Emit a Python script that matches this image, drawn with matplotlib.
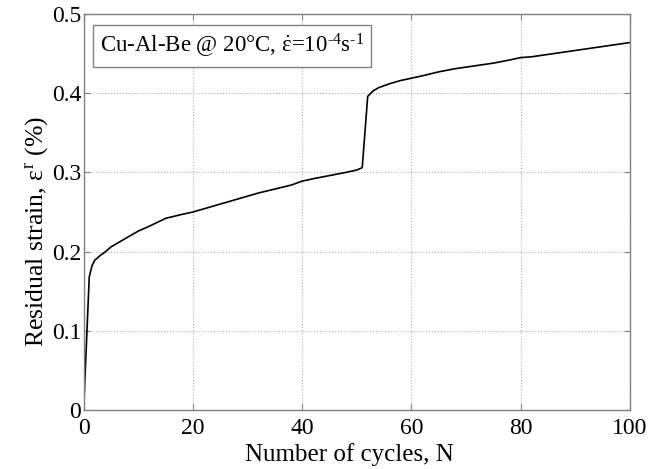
import numpy as np
import matplotlib
matplotlib.use("Agg")
import matplotlib.pyplot as plt

plt.rcParams["font.family"] = ["Liberation Serif", "DejaVu Serif"]
plt.rcParams["mathtext.fontset"] = "custom"
plt.rcParams["mathtext.rm"] = "Liberation Serif"
plt.rcParams["mathtext.it"] = "Liberation Serif"
plt.rcParams["mathtext.bf"] = "Liberation Serif:bold"

# residual strain vs cycle number
cycles = [0, 1, 1.5, 2, 3, 4, 5, 6, 8, 10, 12, 15, 18, 20, 22, 25, 28,
          30, 32, 35, 38, 40, 42, 45, 48, 50, 51, 52, 53, 54, 56, 58, 60,
          62, 65, 68, 70, 72, 75, 78, 80, 82, 85, 88, 90, 92, 95, 98, 100]
strain = [0.005, 0.168, 0.182, 0.189, 0.195, 0.200, 0.206, 0.210, 0.218,
          0.226, 0.232, 0.242, 0.247, 0.250, 0.254, 0.260, 0.266, 0.270,
          0.274, 0.279, 0.284, 0.289, 0.292, 0.296, 0.300, 0.303, 0.306,
          0.396, 0.403, 0.407, 0.412, 0.416, 0.419, 0.422, 0.427, 0.431,
          0.433, 0.435, 0.438, 0.442, 0.445, 0.446, 0.449, 0.452, 0.454,
          0.456, 0.459, 0.462, 0.464]

x_ticks = [0, 20, 40, 60, 80, 100]
y_ticks = [0, 0.1, 0.2, 0.3, 0.4, 0.5]
y_labels = ["0", "0.1", "0.2", "0.3", "0.4", "0.5"]

fig = plt.figure(figsize=(6.65, 4.69), dpi=100)
ax = fig.add_axes([0.126, 0.126, 0.821, 0.844])

ax.plot(cycles, strain, color="black", linewidth=1.2)

ax.set_xlim(0, 100)
ax.set_ylim(0, 0.5)
ax.set_xticks(x_ticks)
ax.set_yticks(y_ticks)
ax.set_yticklabels(y_labels)

ax.grid(True, linestyle=":", color="#b0b0b0", linewidth=0.8)

for side in ax.spines.values():
    side.set_color("#808080")
    side.set_linewidth(1.0)

ax.tick_params(direction="in", top=True, right=True, color="#808080",
               length=4, labelsize=17, labelcolor="black")
ax.tick_params(axis="x", pad=6)
ax.tick_params(axis="y", pad=2)

ax.set_xlabel("Number of cycles, N", fontsize=18)
ax.xaxis.set_label_coords(0.487, -0.083)
ax.set_ylabel(r"Residual strain, $\varepsilon^{\mathrm{r}}$ (%)",
              fontsize=18.5)
ax.yaxis.set_label_coords(-0.062, 0.45)

ax.text(0.03, 0.955,
        r"Cu-Al-Be @ 20°C, $\dot{\varepsilon}$=10$^{\text{-4}}$s$^{\text{-1}}$",
        transform=ax.transAxes, fontsize=16.5, va="top", ha="left",
        bbox=dict(boxstyle="square,pad=0.3", facecolor="white",
                  edgecolor="#808080", linewidth=1.0))

fig.savefig("out.png", dpi=100)
